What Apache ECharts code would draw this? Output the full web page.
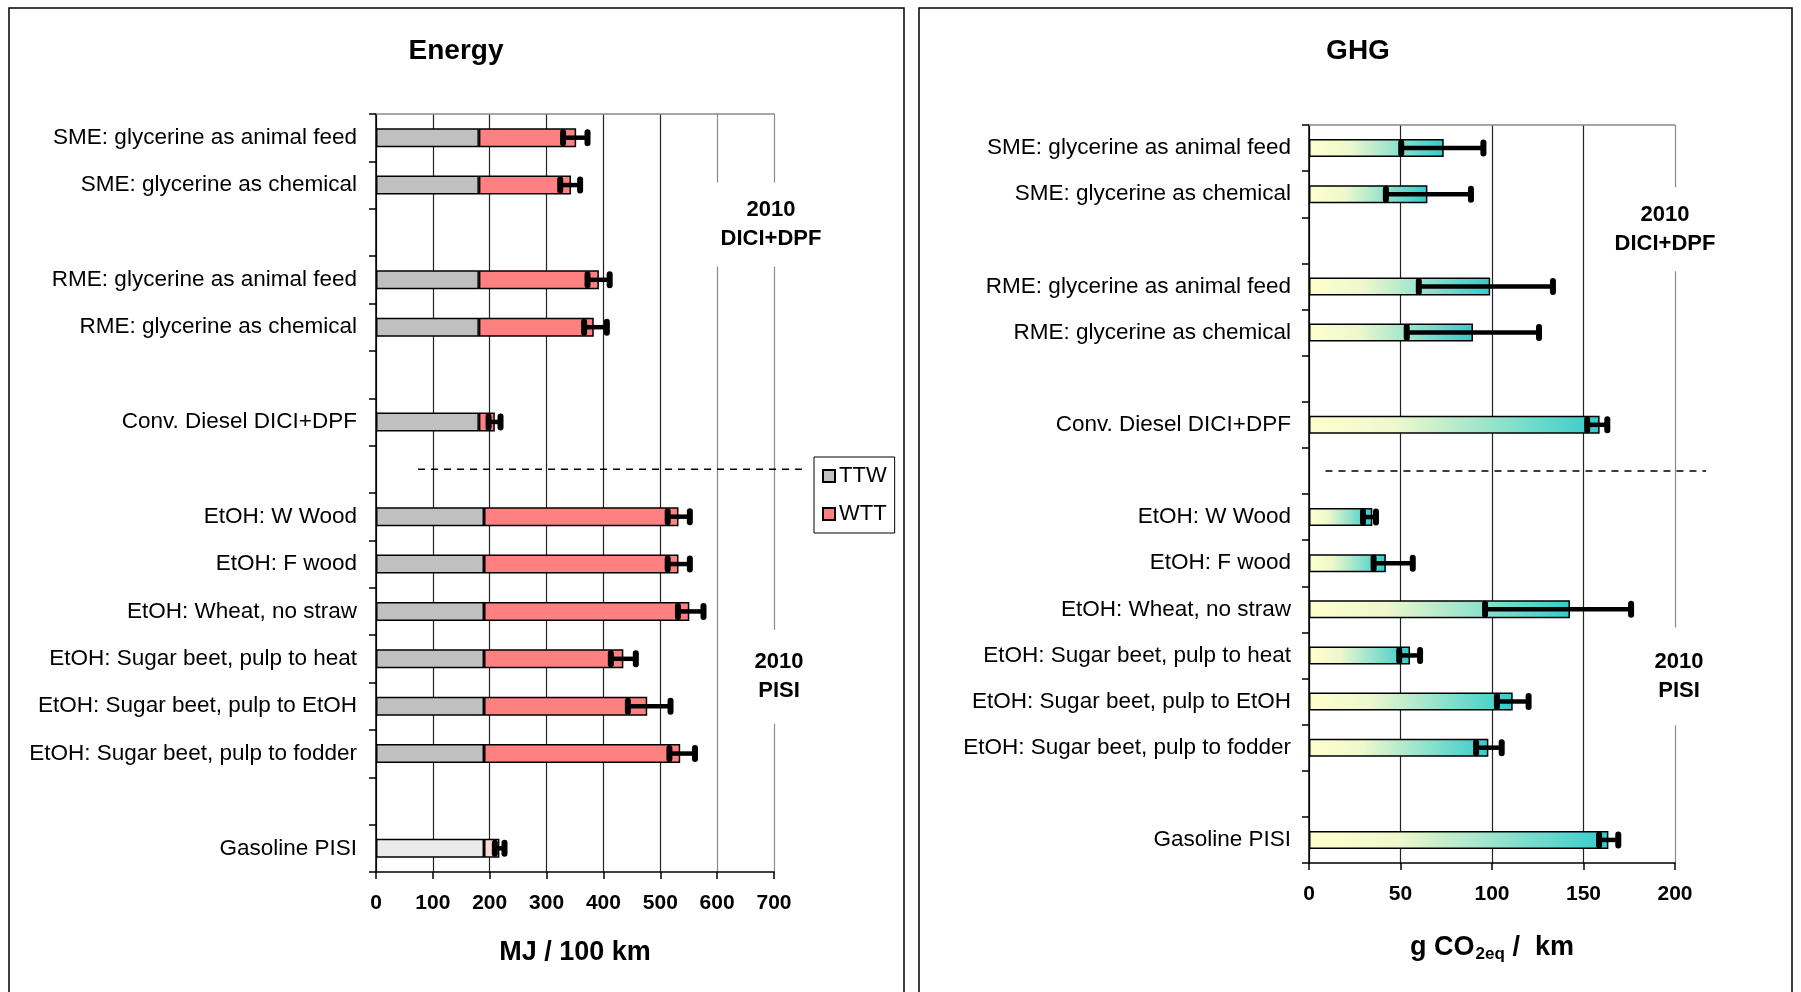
<!DOCTYPE html>
<html>
<head>
<meta charset="utf-8">
<script src="https://cdn.jsdelivr.net/npm/echarts@6/dist/echarts.min.js"></script>
<style>
  html, body { margin: 0; padding: 0; background: #fff; }
  #chart { width: 1801px; height: 992px; }
</style>
</head>
<body>
<div id="chart"></div>
<script>
// Pathways, top to bottom; blank entries are spacer rows between groups
const categories = [
  'SME: glycerine as animal feed',
  'SME: glycerine as chemical',
  ' ',
  'RME: glycerine as animal feed',
  'RME: glycerine as chemical',
  '  ',
  'Conv. Diesel DICI+DPF',
  '   ',
  'EtOH: W Wood',
  'EtOH: F wood',
  'EtOH: Wheat, no straw',
  'EtOH: Sugar beet, pulp to heat',
  'EtOH: Sugar beet, pulp to EtOH',
  'EtOH: Sugar beet, pulp to fodder',
  '    ',
  'Gasoline PISI'
];

// Energy, MJ / 100 km
const energyTTW  = [181, 181, null, 181, 181, null, 181, null, 190, 190, 190, 190, 190, 190, null, 190];
const energyWTT  = [171, 162, null, 211, 202, null, 28,  null, 342, 342, 361, 245, 287, 345, null, 27];
const energyLow  = [329, 324, null, 372, 366, null, 198, null, 513, 513, 531, 413, 443, 516, null, 209];
const energyHigh = [372, 359, null, 411, 406, null, 219, null, 552, 552, 576, 457, 518, 561, null, 226];

// GHG, g CO2eq / km
const ghgValues = [73.6, 64.7, null, 99, 89.6, null, 158.8, null, 34.6, 42, 142.6, 55.2, 111.3, 98, null, 163.6];
const ghgLow    = [50.4, 42,   null, 60, 53.4, null, 152,   null, 29.5, 35.3, 96.2, 49.3, 102.7, 91.3, null, 158.5];
const ghgHigh   = [95.3, 88.5, null, 133.3, 125.7, null, 163, null, 36.6, 56.7, 176, 60.7, 120, 105.3, null, 169];

// Axis ticks
const energyTicks = [0, 100, 200, 300, 400, 500, 600, 700];
const ghgTicks = [0, 50, 100, 150, 200];

// Dashed divider between diesel and gasoline vehicles: [row, from, to]
const energyDivider = [[7, 74, 749]];
const ghgDivider = [[7, 9, 217]];

// Vehicle notes
const energyNotes = [
  { text: '2010\nDICI+DPF', at: [700, 2], dx: -3, dy: -8, pad: [13, 8, 13, 8] },
  { text: '2010\nPISI', at: [700, 11], dx: 5, dy: 18, pad: [18, 12, 18, 12] }
];
const ghgNotes = [
  { text: '2010\nDICI+DPF', at: [200, 2], dx: -10, dy: -11, pad: [13, 8, 13, 8] },
  { text: '2010\nPISI', at: [200, 11], dx: 4, dy: 21, pad: [20, 12, 20, 12] }
];

const FONT = '"Liberation Sans", Arial, sans-serif';
const gasIdx = categories.indexOf('Gasoline PISI');

function rangeData(low, high) {
  const out = [];
  low.forEach((v, i) => { if (v != null) out.push([i, v, high[i]]); });
  return out;
}

function errorBar(params, api) {
  const idx = api.value(0);
  const a = api.coord([api.value(1), idx]);
  const b = api.coord([api.value(2), idx]);
  const h = 5.5;
  const cap = { stroke: '#000', lineWidth: 6, lineCap: 'round' };
  return {
    type: 'group',
    children: [
      { type: 'line', shape: { x1: a[0], y1: a[1], x2: b[0], y2: b[1] }, style: { stroke: '#000', lineWidth: 4.5 } },
      { type: 'line', shape: { x1: a[0], y1: a[1] - h, x2: a[0], y2: a[1] + h }, style: cap },
      { type: 'line', shape: { x1: b[0], y1: b[1] - h, x2: b[0], y2: b[1] + h }, style: cap }
    ]
  };
}

function divider(params, api) {
  const idx = api.value(0);
  const a = api.coord([api.value(1), idx]);
  const b = api.coord([api.value(2), idx]);
  return {
    type: 'line',
    shape: { x1: a[0], y1: a[1], x2: b[0], y2: b[1] },
    style: { stroke: '#000', lineWidth: 1.5, lineDash: [7, 6] }
  };
}

function noteSeries(notes, xi, yi) {
  return {
    type: 'custom', xAxisIndex: xi, yAxisIndex: yi, clip: false, z: 5, silent: true,
    data: notes.map(n => [n.at[0], n.at[1]]),
    encode: { x: 0, y: 1 },
    renderItem: (params, api) => {
      const n = notes[params.dataIndex];
      const p = api.coord([api.value(0), api.value(1)]);
      return {
        type: 'text',
        x: p[0] + n.dx, y: p[1] + n.dy,
        style: {
          text: n.text, fill: '#000', font: 'bold 22px ' + FONT,
          align: 'center', verticalAlign: 'middle', lineHeight: 29,
          backgroundColor: '#fff', padding: n.pad
        }
      };
    }
  };
}

function valueAxis(gridIndex, ticks, lastGray) {
  const colors = ticks.map((t, i) => (i >= ticks.length - lastGray ? '#8a8a8a' : '#222'));
  return {
    type: 'value', gridIndex,
    min: ticks[0], max: ticks[ticks.length - 1], interval: ticks[1] - ticks[0],
    axisLine: { show: true, lineStyle: { color: '#000', width: 1.5 } },
    axisTick: { show: true, length: 7, lineStyle: { color: '#000', width: 1.5 } },
    axisLabel: { color: '#000', fontFamily: FONT, fontWeight: 'bold', fontSize: 21, margin: 21 },
    splitLine: { show: true, lineStyle: { color: colors, width: 1.2 } },
    nameLocation: 'middle'
  };
}

function topAxis(gridIndex, ticks) {
  return {
    type: 'value', gridIndex, position: 'top',
    min: ticks[0], max: ticks[ticks.length - 1], interval: ticks[1] - ticks[0],
    axisLine: { show: true, lineStyle: { color: '#8a8a8a', width: 1.5 } },
    axisTick: { show: false }, axisLabel: { show: false }, splitLine: { show: false }
  };
}

function categoryAxis(gridIndex, margin) {
  return {
    type: 'category', gridIndex, inverse: true, data: categories,
    axisLine: { show: true, lineStyle: { color: '#000', width: 1.5 } },
    axisTick: { show: true, length: 7, lineStyle: { color: '#000', width: 1.5 } },
    axisLabel: { color: '#000', fontFamily: FONT, fontSize: 22.5, margin: margin, interval: 0 },
    splitLine: { show: false }
  };
}

const energyX = valueAxis(0, energyTicks, 2);
energyX.name = 'MJ / 100 km';
energyX.nameGap = 67;
energyX.nameTextStyle = { color: '#000', fontFamily: FONT, fontWeight: 'bold', fontSize: 27 };

const ghgX = valueAxis(1, ghgTicks, 1);
ghgX.name = '{a|g CO}{b|2eq}{a| /  km}';
ghgX.nameGap = 70;
ghgX.nameTextStyle = {
  color: '#000', fontFamily: FONT, fontWeight: 'bold', fontSize: 27,
  rich: {
    a: { fontFamily: FONT, fontWeight: 'bold', fontSize: 27, lineHeight: 30, verticalAlign: 'middle', color: '#000' },
    b: { fontFamily: FONT, fontWeight: 'bold', fontSize: 17, lineHeight: 18, padding: [14, 0, 0, 1], verticalAlign: 'bottom', color: '#000' }
  }
};

const barBorder = { borderColor: '#000', borderWidth: 1.5 };

const ttwData = energyTTW.map((v, i) => i === gasIdx
  ? { value: v, itemStyle: { color: '#ebebeb' } } : v);
const wttData = energyWTT.map((v, i) => i === gasIdx
  ? { value: v, itemStyle: { color: '#ffd9d9' } } : v);

const ghgGradient = new echarts.graphic.LinearGradient(0, 0, 1, 0, [
  { offset: 0, color: '#ffffcc' },
  { offset: 0.3, color: '#eef8cc' },
  { offset: 1, color: '#33cccc' }
]);

const chart = echarts.init(document.getElementById('chart'), null, { renderer: 'canvas' });

chart.setOption({
  animation: false,
  backgroundColor: '#fff',
  textStyle: { fontFamily: FONT },
  graphic: [
    { type: 'rect', shape: { x: 9, y: 8, width: 895, height: 1000 }, style: { fill: 'none', stroke: '#000', lineWidth: 1.5 }, z: -1 },
    { type: 'rect', shape: { x: 919, y: 8, width: 873, height: 1000 }, style: { fill: 'none', stroke: '#000', lineWidth: 1.5 }, z: -1 },
    { type: 'text', x: 456, y: 51, style: { text: 'Energy', font: 'bold 28px ' + FONT, fill: '#000', align: 'center', verticalAlign: 'middle' } },
    { type: 'text', x: 1358, y: 51, style: { text: 'GHG', font: 'bold 28px ' + FONT, fill: '#000', align: 'center', verticalAlign: 'middle' } }
  ],
  legend: {
    data: ['TTW', 'WTT'],
    orient: 'vertical',
    left: 814, top: 457,
    padding: [8, 8, 8, 8],
    itemGap: 16, itemWidth: 12, itemHeight: 12,
    icon: 'rect',
    backgroundColor: '#fff', borderColor: '#000', borderWidth: 1,
    textStyle: { color: '#000', fontFamily: FONT, fontSize: 22, padding: [0, 0, 0, -1] }
  },
  grid: [
    { left: 376, top: 114, width: 398, height: 758, containLabel: false },
    { left: 1309, top: 125, width: 366, height: 738, containLabel: false }
  ],
  xAxis: [energyX, ghgX, topAxis(0, energyTicks), topAxis(1, ghgTicks)],
  yAxis: [categoryAxis(0, 19), categoryAxis(1, 18)],
  series: [
    {
      name: 'TTW', type: 'bar', stack: 'energy', xAxisIndex: 0, yAxisIndex: 0,
      barWidth: 19, data: ttwData,
      itemStyle: Object.assign({ color: '#c0c0c0' }, barBorder)
    },
    {
      name: 'WTT', type: 'bar', stack: 'energy', xAxisIndex: 0, yAxisIndex: 0,
      barWidth: 19, data: wttData,
      itemStyle: Object.assign({ color: '#ff8080' }, barBorder)
    },
    {
      type: 'custom', xAxisIndex: 0, yAxisIndex: 0, clip: false, z: 4, silent: true,
      data: rangeData(energyLow, energyHigh), encode: { x: [1, 2], y: 0 },
      renderItem: errorBar
    },
    {
      type: 'custom', xAxisIndex: 0, yAxisIndex: 0, clip: false, z: 3, silent: true,
      data: energyDivider, encode: { x: [1, 2], y: 0 },
      renderItem: divider
    },
    noteSeries(energyNotes, 0, 0),
    {
      name: 'GHG', type: 'bar', xAxisIndex: 1, yAxisIndex: 1,
      barWidth: 18, data: ghgValues,
      itemStyle: Object.assign({ color: ghgGradient }, barBorder)
    },
    {
      type: 'custom', xAxisIndex: 1, yAxisIndex: 1, clip: false, z: 4, silent: true,
      data: rangeData(ghgLow, ghgHigh), encode: { x: [1, 2], y: 0 },
      renderItem: errorBar
    },
    {
      type: 'custom', xAxisIndex: 1, yAxisIndex: 1, clip: false, z: 3, silent: true,
      data: ghgDivider, encode: { x: [1, 2], y: 0 },
      renderItem: divider
    },
    noteSeries(ghgNotes, 1, 1)
  ]
});
</script>
</body>
</html>
